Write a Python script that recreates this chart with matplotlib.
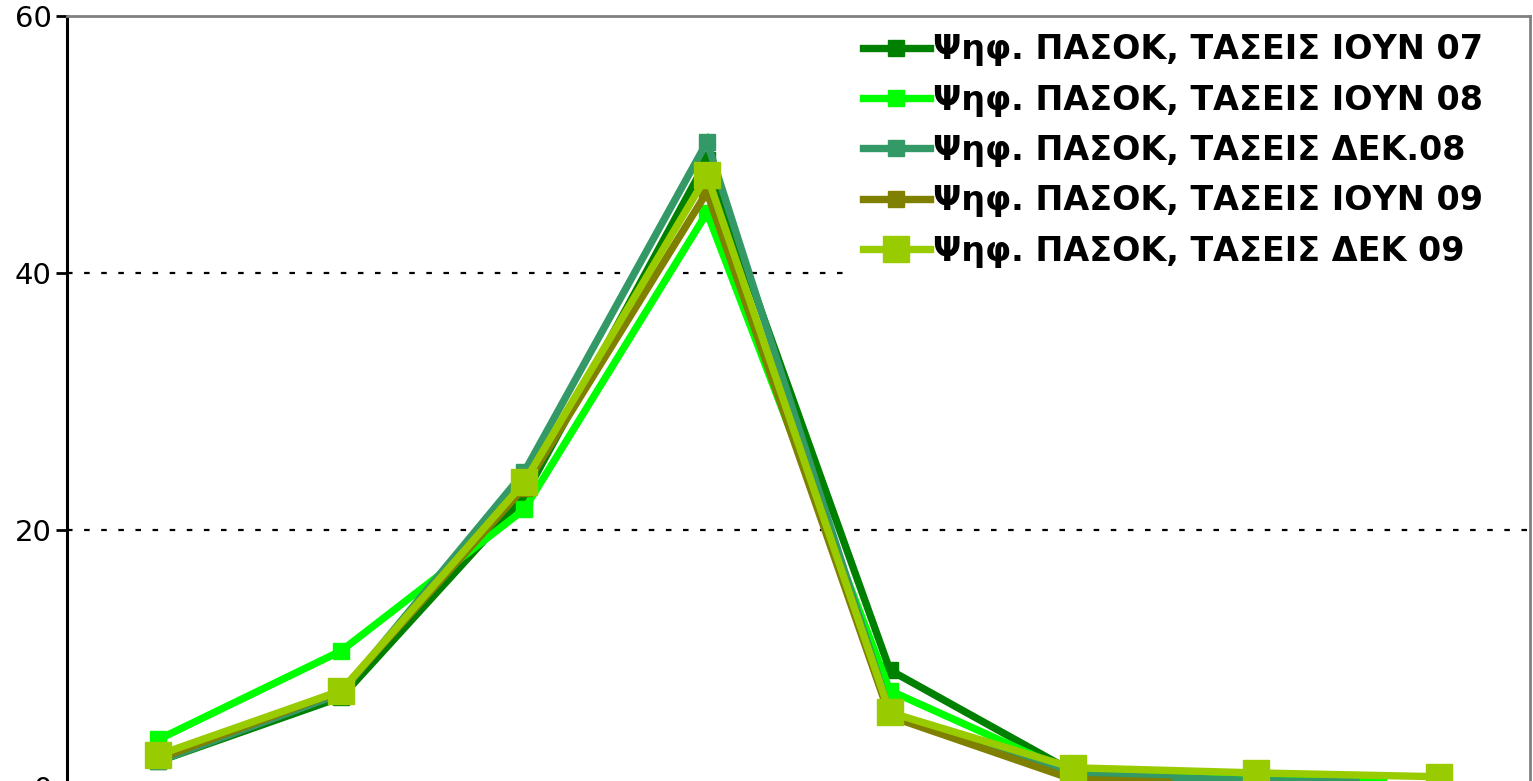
import matplotlib
matplotlib.use('Agg')
import matplotlib.pyplot as plt

# Data (8 categories, no visible x labels)
categories = list(range(8))
labels = ['Ψηφ. ΠΑΣΟΚ, ΤΑΣΕΙΣ ΙΟΥΝ 07', 'Ψηφ. ΠΑΣΟΚ, ΤΑΣΕΙΣ ΙΟΥΝ 08',
          'Ψηφ. ΠΑΣΟΚ, ΤΑΣΕΙΣ ΔΕΚ.08', 'Ψηφ. ΠΑΣΟΚ, ΤΑΣΕΙΣ ΙΟΥΝ 09',
          'Ψηφ. ΠΑΣΟΚ, ΤΑΣΕΙΣ ΔΕΚ 09']
ioyn07 = [2.0, 7.0, 22.6, 48.8, 9.1, 1.2, 0.5, 0.3]
ioyn08 = [3.7, 10.6, 21.6, 44.7, 7.5, 1.1, 0.6, 0.3]
dek08 = [2.0, 7.3, 24.5, 50.2, 5.8, 1.0, 0.5, 0.3]
ioyn09 = [2.2, 7.5, 23.3, 46.3, 5.5, 0.6, 0.2, 0.1]
dek09 = [2.5, 7.5, 23.7, 47.6, 5.8, 1.5, 1.1, 0.8]
yticks = [0, 20, 40, 60]

series = [ioyn07, ioyn08, dek08, ioyn09, dek09]
colors = ['#008000', '#00FF00', '#339966', '#808000', '#99CC00']
msizes = [11, 11, 11, 11, 19]

fig = plt.figure(figsize=(15.33, 7.81), dpi=100)
ax = fig.add_axes([0.0437, -0.0077, 0.9543, 0.9872])

for vals, col, ms, lab in zip(series, colors, msizes, labels):
    ax.plot(categories, vals, '-s', color=col, linewidth=5.3, markersize=ms,
            markerfacecolor=col, markeredgecolor=col, label=lab,
            solid_joinstyle='miter')

ax.set_xlim(-0.5, 7.5)
ax.set_ylim(0, 60)
ax.set_yticks(yticks)
ax.set_xticks([])
ax.tick_params(axis='y', labelsize=21, length=8, width=2, direction='out', pad=3)

# dashed gridlines
for v in [20, 40, 60]:
    ax.axhline(v, color='black', linewidth=1.6, linestyle=(0, (2.5, 5.2)), zorder=0.5)

ax.spines['left'].set_linewidth(2.2)
ax.spines['left'].set_color('black')
for s in ['top', 'right']:
    ax.spines[s].set_color('#808080')
    ax.spines[s].set_linewidth(2)
ax.spines['bottom'].set_visible(False)

leg = ax.legend(loc='upper left', bbox_to_anchor=(0.535, 0.5, 0.462, 0.495),
                mode='expand',
                prop={'weight': 'bold', 'size': 24}, frameon=True,
                handlelength=2.0, handletextpad=0.1, labelspacing=0.52,
                borderaxespad=0.0, borderpad=0.4, fancybox=False)
leg.get_frame().set_edgecolor('white')
leg.get_frame().set_facecolor('white')
leg.get_frame().set_alpha(1)

fig.savefig('out.png', dpi=100)
